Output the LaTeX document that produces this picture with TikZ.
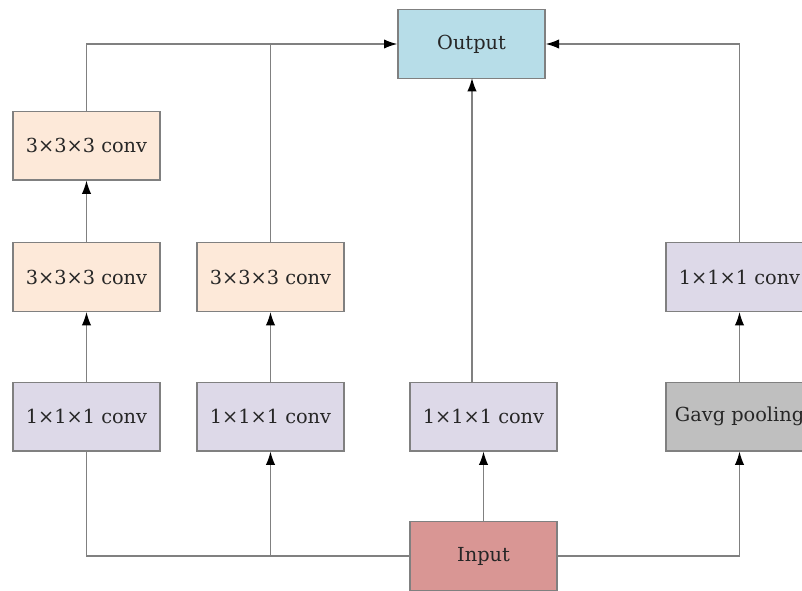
\documentclass[tikz,border=0pt]{standalone}
\usepackage{fontspec}
\setmainfont{DejaVu Serif}
\usetikzlibrary{arrows.meta}
\definecolor{outblue}{RGB}{183,221,232}
\definecolor{peach}{RGB}{253,233,217}
\definecolor{lav}{RGB}{221,217,232}
\definecolor{poolgray}{RGB}{191,191,191}
\definecolor{inred}{RGB}{217,150,148}
\definecolor{edge}{RGB}{128,128,128}
\tikzset{
  blk/.style={draw=edge, line width=1pt, minimum width=110.25pt, minimum height=51.5pt,
    inner sep=0pt, font=\fontsize{14.5pt}{17pt}\selectfont, text=black!85},
  conn/.style={draw=edge, line width=1.1pt},
  arr/.style={conn, -{Latex[black,length=10pt,width=7pt]}},
}
\begin{document}
\begin{tikzpicture}[x=0.75pt,y=-0.75pt]
\useasboundingbox (0,0) rectangle (802,590);
\node[blk, fill=outblue] (out) at (471.5,44) {Output};
\node[blk, fill=peach] (c1a) at (86.5,145.5) {3×3×3 conv};
\node[blk, fill=peach] (c1b) at (86.5,277) {3×3×3 conv};
\node[blk, fill=lav] (c1c) at (86.5,416.5) {1×1×1 conv};
\node[blk, fill=peach] (c2b) at (270.5,277) {3×3×3 conv};
\node[blk, fill=lav] (c2c) at (270.5,416.5) {1×1×1 conv};
\node[blk, fill=lav] (c3c) at (483.5,416.5) {1×1×1 conv};
\node[blk, fill=lav] (c4b) at (739.5,277) {1×1×1 conv};
\node[blk, fill=poolgray] (c4c) at (739.5,416.5) {Gavg pooling};
\node[blk, fill=inred] (in) at (483.5,556) {Input};
\coordinate (tl) at (86.5,44);
\coordinate (tm) at (270.5,44);
\coordinate (tr) at (739.5,44);
\coordinate (bl) at (86.5,556);
\coordinate (bm) at (270.5,556);
\coordinate (br) at (739.5,556);
\coordinate (c3top) at (472,382);
\coordinate (c3out) at (472,78);
% left branch to output
\draw[conn] (c1a.north) -- (tl) -- (tm);
\draw[conn] (c2b.north) -- (tm);
\draw[arr] (tm) -- (out.west);
% right branch to output
\draw[arr] (c4b.north) -- (tr) -- (out.east);
% middle
\draw[arr] (c3top) -- (c3out);
% column arrows
\draw[arr] (c1b.north) -- (c1a.south);
\draw[arr] (c1c.north) -- (c1b.south);
\draw[arr] (c2c.north) -- (c2b.south);
\draw[arr] (c4c.north) -- (c4b.south);
% from input
\draw[conn] (in.west) -- (bm) -- (bl) -- (c1c.south);
\draw[arr] (bm) -- (c2c.south);
\draw[arr] (in.north) -- (c3c.south);
\draw[arr] (in.east) -- (br) -- (c4c.south);
\end{tikzpicture}
\end{document}
